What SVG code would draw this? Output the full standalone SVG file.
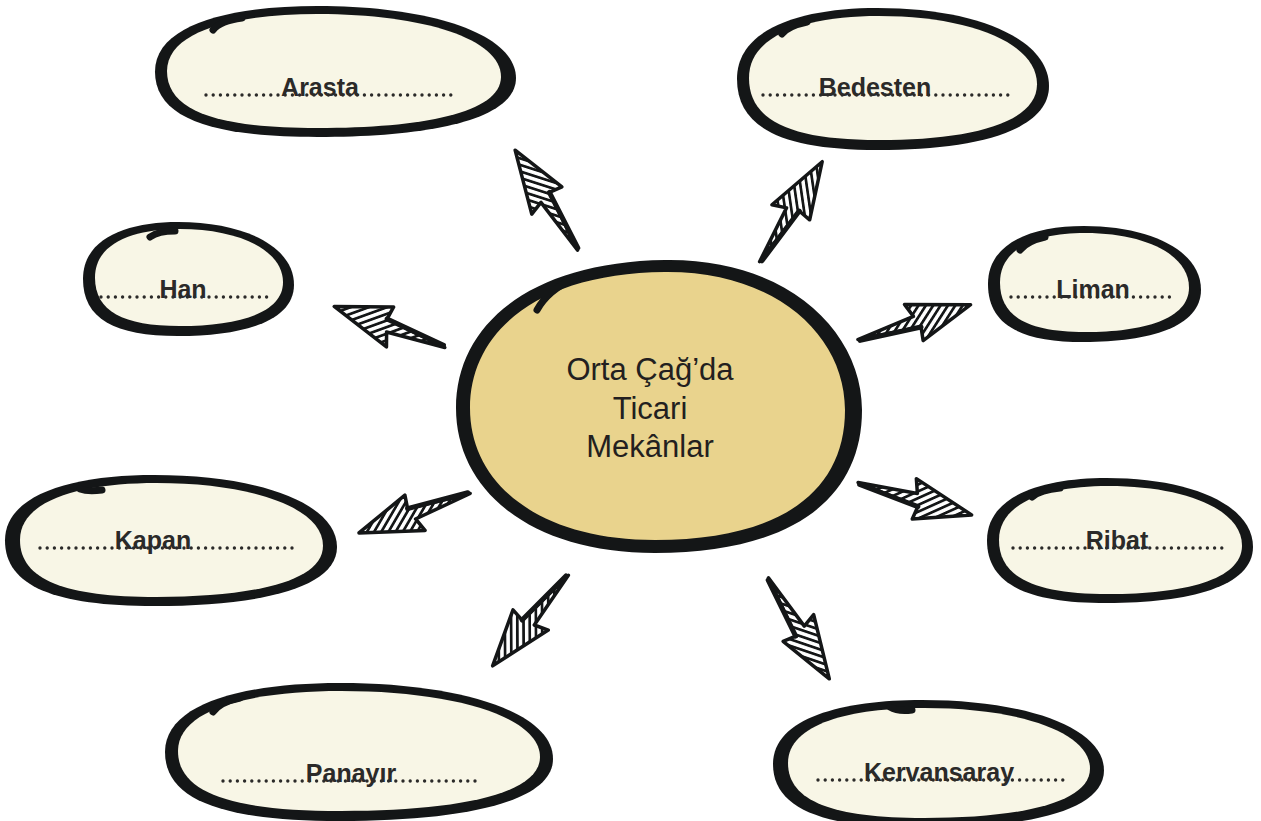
<svg xmlns="http://www.w3.org/2000/svg" xmlns:xlink="http://www.w3.org/1999/xlink" width="1261" height="821" viewBox="0 0 1261 821">
<style>
.ink{fill:#141617}
.cream{fill:#F8F6E6}
.tick{fill:none;stroke:#141617;stroke-width:7;stroke-linecap:round}
.lbl{font-family:"Liberation Sans",Arial,sans-serif;font-weight:bold;font-size:25px;fill:#2b2a29;text-anchor:middle}
.ctr{font-family:"Liberation Sans",Arial,sans-serif;font-size:31px;fill:#231f20;text-anchor:middle}
.dots{stroke:#2b2a29;stroke-width:3.4;stroke-dasharray:0 7.2;stroke-linecap:round;fill:none}
.arr{fill:url(#hatch);stroke:#141617;stroke-width:3.5;stroke-linejoin:round}
.arrEdge{fill:none;stroke:#141617;stroke-width:5;stroke-linecap:round}
</style>
<defs>
<path id="blob" d="M0 50 C0 14 21 0 45 0 C77 0 100 22 100 55 C100 87 76 100 45 100 C15 100 0 85 0 50 Z"/>
<pattern id="hatch" patternUnits="userSpaceOnUse" width="6.2" height="6.2" patternTransform="rotate(50)">
<rect width="6.2" height="6.2" fill="#fff"/>
<rect width="2.7" height="6.2" fill="#141617"/>
</pattern>
<g id="arrow">
<path class="arr" d="M0 -0.5 L60 -6 L55 -20 L118 0 L62 20 L64 6.5 Z"/>
<path class="arrEdge" d="M2 1 L64 6.5"/>
</g>
</defs>
<rect width="1261" height="821" fill="#fff"/>

<g id="connectors">
<use href="#arrow" transform="translate(578,250) rotate(-122.2)"/>
<use href="#arrow" transform="translate(760,262) rotate(-58.2)"/>
<use href="#arrow" transform="translate(445,347) rotate(-159.9)"/>
<use href="#arrow" transform="translate(858,340) rotate(-17.4)"/>
<use href="#arrow" transform="translate(470,493) rotate(160.2)"/>
<use href="#arrow" transform="translate(858,483) rotate(15.7)"/>
<use href="#arrow" transform="translate(568,575) rotate(129.7)"/>
<use href="#arrow" transform="translate(768,578) rotate(58.7)"/>
</g>

<g id="center">
<path class="ink" d="M456 408 C456 325 530 262 665 260 C785 258 862 330 862 410 C862 500 790 553 655 553 C530 553 456 490 456 408 Z"/>
<path fill="#E9D38D" d="M470 408 C470 330 540 273 665 272 C775 271 845 335 845 410 C845 492 780 540 655 540 C540 540 470 485 470 408 Z"/>
<path class="tick" d="M537 310 Q548 290 575 278"/>
<text class="ctr" x="650" y="380">Orta Çağ’da</text>
<text class="ctr" x="650" y="419">Ticari</text>
<text class="ctr" x="650" y="457">Mekânlar</text>
</g>

<g id="arasta">
<use href="#blob" class="ink" transform="translate(155,6) scale(3.61,1.31)"/>
<use href="#blob" class="cream" transform="translate(167,14) scale(3.34,1.14)"/>
<path class="tick" d="M213 30 Q220 21 242 18"/>
<line class="dots" x1="206" y1="95" x2="457" y2="95"/>
<text class="lbl" x="320" y="96">Arasta</text>
</g>

<g id="bedesten">
<use href="#blob" class="ink" transform="translate(737,8) scale(3.12,1.42)"/>
<use href="#blob" class="cream" transform="translate(749,16) scale(2.88,1.24)"/>
<path class="tick" d="M782 34 Q788 26 807 22"/>
<line class="dots" x1="763" y1="95" x2="1014" y2="95"/>
<text class="lbl" x="875" y="96">Bedesten</text>
</g>

<g id="han">
<use href="#blob" class="ink" transform="translate(83,222) scale(2.11,1.14)"/>
<use href="#blob" class="cream" transform="translate(95,229) scale(1.88,0.97)"/>
<path class="tick" d="M150 237 Q158 231 175 231"/>
<line class="dots" x1="101" y1="297" x2="268" y2="297"/>
<text class="lbl" x="183" y="298">Han</text>
</g>

<g id="liman">
<use href="#blob" class="ink" transform="translate(988,226) scale(2.13,1.16)"/>
<use href="#blob" class="cream" transform="translate(1000,233) scale(1.89,0.99)"/>
<path class="tick" d="M1020 250 Q1027 241 1045 237"/>
<line class="dots" x1="1011" y1="297" x2="1172" y2="297"/>
<text class="lbl" x="1093" y="298">Liman</text>
</g>

<g id="kapan">
<use href="#blob" class="ink" transform="translate(5,475) scale(3.32,1.31)"/>
<use href="#blob" class="cream" transform="translate(20,483) scale(3.03,1.14)"/>
<path class="tick" d="M80 489 Q88 492 102 490"/>
<line class="dots" x1="40" y1="548" x2="292" y2="548"/>
<text class="lbl" x="153" y="549">Kapan</text>
</g>

<g id="ribat">
<use href="#blob" class="ink" transform="translate(987,478) scale(2.66,1.25)"/>
<use href="#blob" class="cream" transform="translate(999,486) scale(2.43,1.08)"/>
<path class="tick" d="M1032 497 Q1040 490 1060 488"/>
<line class="dots" x1="1013" y1="548" x2="1222" y2="548"/>
<text class="lbl" x="1117" y="549">Ribat</text>
</g>

<g id="panayir">
<use href="#blob" class="ink" transform="translate(165,683) scale(3.88,1.38)"/>
<use href="#blob" class="cream" transform="translate(178,691) scale(3.62,1.2)"/>
<path class="tick" d="M213 712 Q220 702 240 698"/>
<line class="dots" x1="223" y1="781" x2="476" y2="781"/>
<text class="lbl" x="351" y="782">Panayır</text>
</g>

<g id="kervansaray">
<use href="#blob" class="ink" transform="translate(773,700) scale(3.31,1.28)"/>
<use href="#blob" class="cream" transform="translate(788,708) scale(3.02,1.1)"/>
<path class="tick" d="M890 707 Q898 712 912 710"/>
<line class="dots" x1="818" y1="780" x2="1070" y2="780"/>
<text class="lbl" x="939" y="781">Kervansaray</text>
</g>
</svg>
